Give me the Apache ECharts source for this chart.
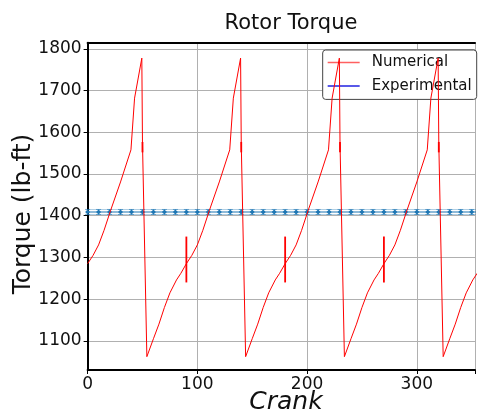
<!DOCTYPE html>
<html><head><meta charset="utf-8">
<script src="https://cdn.jsdelivr.net/npm/echarts@6/dist/echarts.min.js"></script>
<style>html,body{margin:0;padding:0;background:#fff}#c{width:478px;height:414px}</style>
</head><body><div id="c"></div>
<script>
// Numerical (red) curve
var numX = [0,5,10,15,21,30,39.5,42.8,49.4,50.0,54,60,65,70,75,81,85,
            90,95,100,105,111,120,129.5,132.8,139.4,140.0,144,150,155,160,165,171,175,
            180,185,190,195,201,210,219.5,222.8,229.4,230.0,234,240,245,250,255,261,265,
            270,275,280,285,291,300,309.5,312.8,319.4,320.0,324,330,335,340,345,351,355];
var numY = [1285,1305,1330,1365,1413,1481,1558,1682,1778,1575,1062,1105,1140,1180,1215,1246,1262,
            1285,1305,1330,1365,1413,1481,1558,1682,1778,1575,1062,1105,1140,1180,1215,1246,1262,
            1285,1305,1330,1365,1413,1481,1558,1682,1778,1575,1062,1105,1140,1180,1215,1246,1262,
            1285,1305,1330,1365,1413,1481,1558,1682,1778,1575,1062,1105,1140,1180,1215,1246,1262];
// Numerical error bars
var numErrX = [90,180,270,50,140,230,320];
var numErrLow = [1240,1240,1240,1552,1552,1552,1552];
var numErrHigh = [1350,1350,1350,1577,1577,1577,1577];
// Experimental (blue)
var expX = [0,10,20,30,40,50,60,70,80,90,100,110,120,130,140,150,160,170,180,190,200,210,220,230,240,250,260,270,280,290,300,310,320,330,340,350,360];
var expY = [1409,1409,1409,1409,1409,1409,1409,1409,1409,1409,1409,1409,1409,1409,1409,1409,1409,1409,1409,1409,1409,1409,1409,1409,1409,1409,1409,1409,1409,1409,1409,1409,1409,1409,1409,1409,1409];
var expErr = [6,6,6,6,6,6,6,6,6,6,6,6,6,6,6,6,6,6,6,6,6,6,6,6,6,6,6,6,6,6,6,6,6,6,6,6,6];
var xTicks = [0,100,200,300];
var yTicks = [1100,1200,1300,1400,1500,1600,1700,1800];

var FONT = 'DejaVu Sans';
var chart = echarts.init(document.getElementById('c'), null, {renderer:'canvas'});

var numLine = numX.map(function(x,i){return [x,numY[i]];});
var numErrData = numErrX.map(function(x,i){return [x,numErrLow[i],numErrHigh[i]];});
var expLine = expX.map(function(x,i){return [x,expY[i]];});
var expErrData = expX.map(function(x,i){return [x,expY[i]-expErr[i],expY[i]+expErr[i]];});
var expLo = expX.map(function(x,i){return [x,expY[i]-expErr[i]];});
var expHi = expX.map(function(x,i){return [x,expY[i]+expErr[i]];});

function errRender(color, width, cap){
  return function(params, api){
    var x = api.value(0);
    var p1 = api.coord([x, api.value(1)]);
    var p2 = api.coord([x, api.value(2)]);
    var children = [{type:'line', shape:{x1:p1[0],y1:p1[1],x2:p2[0],y2:p2[1]}, style:{stroke:color,lineWidth:width}}];
    if (cap) {
      children.push({type:'line', shape:{x1:p1[0]-cap,y1:p1[1],x2:p1[0]+cap,y2:p1[1]}, style:{stroke:color,lineWidth:1}});
      children.push({type:'line', shape:{x1:p2[0]-cap,y1:p2[1],x2:p2[0]+cap,y2:p2[1]}, style:{stroke:color,lineWidth:1}});
    }
    return {type:'group', children:children};
  };
}

chart.setOption({
  animation:false,
  textStyle:{fontFamily:FONT},
  grid:{left:87.6, right:0, top:42.7, bottom:44},
  title:{text:'Rotor Torque', left:286, top:8, textAlign:'center',
         textStyle:{fontFamily:FONT, fontSize:21, fontWeight:'normal', color:'#111'}},
  graphic:[
    {type:'text', style:{text:'Torque (lb-ft)', fontFamily:FONT, fontSize:25, fill:'#111', textAlign:'center', textVerticalAlign:'middle'},
     x:23, y:214, rotation:Math.PI/2},
    {type:'text', style:{text:'Crank', fontFamily:FONT, fontSize:25, fontStyle:'italic', fill:'#111', textAlign:'center', textVerticalAlign:'middle'},
     x:286, y:402}
  ],
  legend:{
    orient:'vertical', right:1.3, top:50, padding:[5,5,6,5], itemGap:8.4,
    backgroundColor:'#fff', borderColor:'#444', borderWidth:1, borderRadius:3,
    itemWidth:32, itemHeight:1.5,
    textStyle:{fontFamily:FONT, fontSize:15, color:'#111', padding:[0,0,0,7]},
    data:[
      {name:'Numerical', icon:'rect', itemStyle:{color:'#ff6060'}},
      {name:'Experimental', icon:'rect', itemStyle:{color:'#2020e0'}}
    ]
  },
  xAxis:[{
    type:'value', min:0, max:353, interval:100,
    axisLine:{show:true, lineStyle:{color:'#000', width:2}},
    axisTick:{show:true, length:4, lineStyle:{color:'#000'}},
    axisLabel:{fontFamily:FONT, fontSize:17, color:'#111', margin:6,
      formatter:function(v){return xTicks.indexOf(v)>=0 ? String(v) : '';}},
    splitLine:{show:true, lineStyle:{color:'#b0b0b0', width:1}}
  },{
    type:'value', position:'top', min:0, max:353,
    axisLine:{show:true, onZero:false, lineStyle:{color:'#000', width:2}},
    axisTick:{show:false}, axisLabel:{show:false}, splitLine:{show:false}
  }],
  yAxis:{
    type:'value', min:1030, max:1815, minInterval:100, maxInterval:100, splitNumber:8,
    axisLine:{show:true, onZero:false, lineStyle:{color:'#000', width:2}},
    axisTick:{show:true, length:4, lineStyle:{color:'#000'}},
    axisLabel:{fontFamily:FONT, fontSize:17, color:'#111', margin:6, showMinLabel:false, showMaxLabel:false,
      formatter:function(v){return yTicks.indexOf(v)>=0 ? String(v) : '';}},
    splitLine:{show:true, lineStyle:{color:'#b0b0b0', width:1}}
  },
  series:[
    {type:'line', data:expLo, symbol:'none', silent:true, lineStyle:{color:'rgba(31,119,180,0.35)', width:1.2}, z:2},
    {type:'line', data:expHi, symbol:'none', silent:true, lineStyle:{color:'rgba(31,119,180,0.35)', width:1.2}, z:2},
    {type:'custom', data:expErrData, renderItem:errRender('rgba(31,119,180,0.6)',1,2.5), z:3, silent:true},
    {name:'Experimental', type:'line', data:expLine, symbol:'diamond', symbolSize:5, itemStyle:{color:'#1f77b4'},
     lineStyle:{color:'#1f77b4', width:1.2}, z:4},
    {name:'Numerical', type:'line', data:numLine, symbol:'none', lineStyle:{color:'#ff0000', width:1}, z:5},
    {type:'custom', data:numErrData, renderItem:errRender('#ff0000',1.8,0), z:6, silent:true}
  ]
});
</script></body></html>
